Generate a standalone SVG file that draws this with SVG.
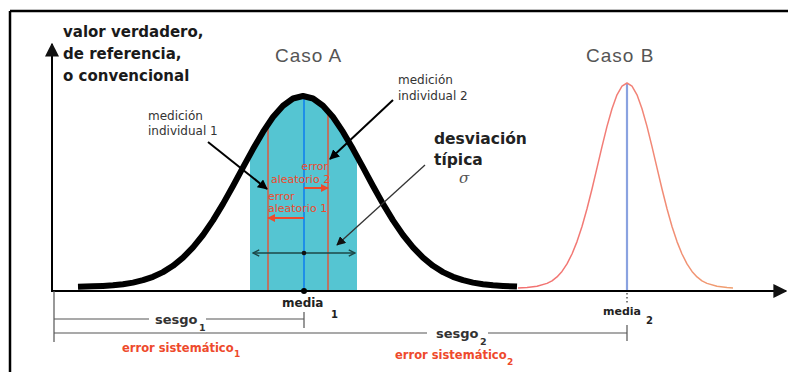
<svg xmlns="http://www.w3.org/2000/svg" width="788" height="372" viewBox="0 0 788 372">
<style>
.lbl{font-family:"DejaVu Sans",Verdana,sans-serif;}
.b{font-weight:bold;}
.caso{font-family:"Liberation Sans",Arial,sans-serif;font-size:19px;fill:#555;letter-spacing:1px;}
.med{font-size:12px;fill:#333;}
.red{fill:#ee4a2c;}
.ax{stroke:#000;stroke-width:2;fill:none;}
.gl{stroke:#555;stroke-width:1.2;fill:none;}
</style>
<defs>
<marker id="ah" viewBox="0 0 10 10" refX="9" refY="5" markerWidth="5" markerHeight="5" orient="auto" markerUnits="strokeWidth"><path d="M0,0 L10,5 L0,10 z" fill="#000"/></marker>
<marker id="ahs" viewBox="0 0 10 10" refX="9" refY="5" markerWidth="7" markerHeight="7" orient="auto" markerUnits="strokeWidth"><path d="M0,0 L10,5 L0,10 z" fill="#111"/></marker>
<marker id="ahr" viewBox="0 0 10 10" refX="9" refY="5" markerWidth="4" markerHeight="4" orient="auto" markerUnits="strokeWidth"><path d="M0,0 L10,5 L0,10 z" fill="#ee4a2c"/></marker>
<marker id="aht" viewBox="0 0 10 10" refX="9" refY="5" markerWidth="6" markerHeight="6" orient="auto" markerUnits="strokeWidth"><path d="M1,1 L9,5 L1,9" fill="none" stroke="#1d4747" stroke-width="1.8"/></marker>
<linearGradient id="gb" gradientUnits="userSpaceOnUse" x1="518" y1="0" x2="733" y2="0">
<stop offset="0" stop-color="#f27070"/><stop offset="0.5" stop-color="#f28078"/><stop offset="1" stop-color="#f0a070"/>
</linearGradient>
<clipPath id="under">
<path d="M78,291 L78,286.8 L93,286.3 L103,285.9 L113,285.3 L123,284.2 L133,282.6 L143,280.2 L153,276.8 L163,272.1 L173,265.8 L183,257.7 L193,247.4 L203,235 L213,220.4 L223,203.9 L233,186 L243,167.4 L253,149.1 L263,131.9 L273,117 L283,105.7 L293,98.5 L303,96 L313,98.5 L323,105.7 L333,117 L343,131.9 L353,149.1 L363,167.4 L373,186 L383,203.9 L393,220.4 L403,235 L413,247.4 L423,257.7 L433,265.8 L443,272.1 L453,276.8 L463,280.2 L473,282.6 L483,284.2 L493,285.3 L503,285.9 L517,286.6 L517,291 Z"/>
</clipPath>
</defs>
<rect width="788" height="372" fill="#fff"/>
<g id="frame">
<path d="M10,11 H788 M10,11 V372" stroke="#000" stroke-width="2.5" fill="none"/>
</g>
<g id="casoA">
<rect x="250" y="90" width="107" height="201" fill="#55c5d2" clip-path="url(#under)"/>
<line x1="304" y1="97" x2="304" y2="291" stroke="#1e8fe8" stroke-width="2"/>
<line x1="268" y1="126" x2="268" y2="291" stroke="#ee4a2c" stroke-width="1.3"/>
<line x1="328" y1="110" x2="328" y2="291" stroke="#ee4a2c" stroke-width="1.3"/>
<polyline fill="none" stroke="#000" stroke-width="6" stroke-linejoin="round" points="78,286.8 93,286.3 103,285.9 113,285.3 123,284.2 133,282.6 143,280.2 153,276.8 163,272.1 173,265.8 183,257.7 193,247.4 203,235 213,220.4 223,203.9 233,186 243,167.4 253,149.1 263,131.9 273,117 283,105.7 293,98.5 303,96 313,98.5 323,105.7 333,117 343,131.9 353,149.1 363,167.4 373,186 383,203.9 393,220.4 403,235 413,247.4 423,257.7 433,265.8 443,272.1 453,276.8 463,280.2 473,282.6 483,284.2 493,285.3 503,285.9 517,286.6"/>
<text class="caso" x="275" y="62">Caso A</text>
</g>
<g id="casoB">
<line x1="627" y1="84" x2="627" y2="291" stroke="#8aa2e0" stroke-width="2.2"/>
<polyline fill="none" stroke="url(#gb)" stroke-width="1.5" stroke-linejoin="round" points="518,288 527,287.5 537,286.3 547,283.4 552,280.8 557,276.9 562,271.4 567,263.9 572,254 577,241.6 582,226.5 587,208.8 592,189 597,167.9 602,146.6 607,126.4 612,108.7 617,94.8 622,86.1 627,83 632,86.1 637,94.8 642,108.7 647,126.4 652,146.6 657,167.9 662,189 667,208.8 672,226.5 677,241.6 682,254 687,263.9 692,271.4 697,276.9 702,280.8 707,283.4 717,286.3 727,287.5 733,288"/>
<text class="caso" x="586" y="62">Caso B</text>
</g>
<g id="axes">
<line class="ax" x1="52" y1="292" x2="52" y2="44" marker-end="url(#ahs)"/>
<line class="ax" x1="51" y1="291" x2="786" y2="291" marker-end="url(#ahs)"/>
<text class="lbl b" font-size="15" fill="#1a1a1a"><tspan x="63" y="37">valor verdadero,</tspan><tspan x="63" y="59">de referencia,</tspan><tspan x="63" y="81">o convencional</tspan></text>
</g>
<g id="connectors">
<line x1="208" y1="142" x2="267" y2="189" stroke="#000" stroke-width="2" marker-end="url(#ah)"/>
<line x1="393" y1="100" x2="330" y2="159" stroke="#000" stroke-width="2" marker-end="url(#ah)"/>
<line x1="425" y1="165" x2="337" y2="245" stroke="#333" stroke-width="1.3" marker-end="url(#ahs)"/>
<line x1="304" y1="188" x2="328" y2="188" stroke="#ee4a2c" stroke-width="2" marker-end="url(#ahr)"/>
<line x1="304" y1="218" x2="268" y2="218" stroke="#ee4a2c" stroke-width="2" marker-end="url(#ahr)"/>
<line x1="304" y1="253" x2="355" y2="253" stroke="#1d4747" stroke-width="1.3" marker-end="url(#aht)"/>
<line x1="304" y1="253" x2="253" y2="253" stroke="#1d4747" stroke-width="1.3" marker-end="url(#aht)"/>
<circle cx="304" cy="253" r="2.3" fill="#111"/>
</g>
<g id="medicion1">
<text class="lbl med"><tspan x="148" y="120">medición</tspan><tspan x="148" y="135">individual 1</tspan></text>
</g>
<g id="medicion2">
<text class="lbl med"><tspan x="398" y="84">medición</tspan><tspan x="398" y="100">individual 2</tspan></text>
</g>
<g id="errores">
<text class="lbl red" font-size="11" text-anchor="end" x="328" y="170">error</text>
<text class="lbl red" font-size="11" x="271" y="183">aleatorio 2</text>
<text class="lbl red" font-size="11" x="268" y="200">error</text>
<text class="lbl red" font-size="11" x="268" y="212">aleatorio 1</text>
</g>
<g id="desviacion">
<text class="lbl b" font-size="15.5" fill="#222"><tspan x="434" y="144">desviación</tspan><tspan x="434" y="165">típica</tspan></text>
<text x="459" y="183" font-family="'DejaVu Serif',serif" font-style="italic" font-size="15" fill="#555">σ</text>
</g>
<g id="media1">
<circle cx="304" cy="291" r="3" fill="#000"/>
<text class="lbl b" font-size="12" fill="#222" x="282" y="307">media</text>
<text class="lbl b" font-size="10" fill="#222" x="331" y="318">1</text>
</g>
<g id="media2">
<line x1="627" y1="293" x2="627" y2="305" stroke="#555" stroke-width="1.5" stroke-dasharray="1.5,2.5"/>
<text class="lbl b" font-size="11" fill="#222" x="603" y="315">media</text>
<text class="lbl b" font-size="10" fill="#222" x="646" y="324">2</text>
</g>
<g id="sesgo1">
<path class="gl" d="M54,291 V342 M54,319 H149 M206,319 H304 M304,312 V328"/>
<text class="lbl b" font-size="13" fill="#333" x="155" y="324">sesgo</text>
<text class="lbl b" font-size="9.5" fill="#333" x="199" y="331">1</text>
<text class="lbl b red" font-size="11.5" x="122" y="352">error sistemático</text>
<text class="lbl b red" font-size="9" x="234" y="357">1</text>
</g>
<g id="sesgo2">
<path class="gl" d="M54,333 H427 M488,333 H627 M627,325 V341"/>
<text class="lbl b" font-size="13" fill="#333" x="436" y="338">sesgo</text>
<text class="lbl b" font-size="9.5" fill="#333" x="480" y="345">2</text>
<text class="lbl b red" font-size="11.5" x="395" y="359">error sistemático</text>
<text class="lbl b red" font-size="9" x="507" y="365">2</text>
</g>
</svg>
